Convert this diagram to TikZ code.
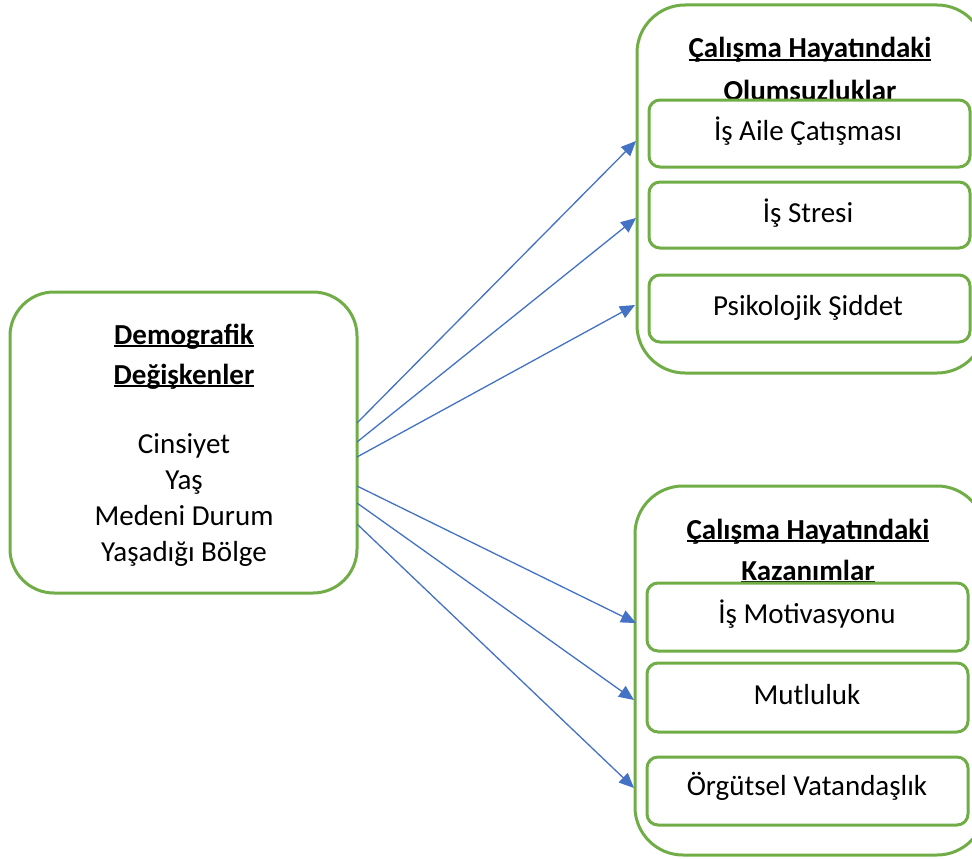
\documentclass[tikz,border=0pt]{standalone}
\usepackage{fontspec}
\setmainfont{Carlito}
\usetikzlibrary{arrows.meta}
\definecolor{grn}{HTML}{70AD47}
\definecolor{blu}{HTML}{4472C4}
\newsavebox\ulbox
\newcommand{\myul}[1]{\sbox\ulbox{#1}\rlap{\rule[-3pt]{\wd\ulbox}{1.8pt}}\usebox\ulbox}
\tikzset{
  bigbox/.style={draw=grn, line width=3pt, fill=white, rounded corners=48pt, inner sep=0pt, outer sep=0pt},
  leftbox/.style={draw=grn, line width=3pt, fill=white, rounded corners=44pt, inner sep=0pt, outer sep=0pt},
  smallbox/.style={draw=grn, line width=3pt, fill=white, rounded corners=11pt, inner sep=0pt, outer sep=0pt},
  txt/.style={font=\fontsize{29pt}{36pt}\selectfont, inner sep=0pt, anchor=base},
  ttl/.style={txt, font=\fontsize{29pt}{36pt}\selectfont\bfseries},
  arr/.style={draw=blu, line width=1.3pt, -{Triangle[length=15pt,width=13pt]}, fill=blu},
}
\begin{document}
\begin{tikzpicture}[x=1pt,y=-1pt]
\useasboundingbox (0,0) rectangle (972,859);
\clip (0,0) rectangle (972,859);
% left box
\node[leftbox, minimum width=347pt, minimum height=301pt] (L) at (183.5,442.5) {};
\node[ttl] (l1) at (184,344) {\myul{Demografik}};
\node[ttl] (l2) at (184,384) {\myul{Değişkenler}};
\node[txt] (l3) at (184,453) {Cinsiyet};
\node[txt] (l4) at (184,489) {Yaş};
\node[txt] (l5) at (184,525) {Medeni Durum};
\node[txt] (l6) at (184,561) {Yaşadığı Bölge};
% top right group
\node[bigbox, minimum width=348pt, minimum height=368pt] (T) at (811,189) {};
\node[ttl] (t1) at (810,58) {\myul{Çalışma Hayatındaki}};
\node[ttl] (t2) at (810,100) {\myul{Olumsuzluklar}};
\node[smallbox, minimum width=321pt, minimum height=67pt] (T1) at (809.5,133.5) {};
\node[smallbox, minimum width=321pt, minimum height=66pt] (T2) at (809.5,215) {};
\node[smallbox, minimum width=321pt, minimum height=67pt] (T3) at (809.5,308.5) {};
\node[txt] (t3) at (808,140) {İş Aile Çatışması};
\node[txt] (t4) at (808,222) {İş Stresi};
\node[txt] (t5) at (808,315) {Psikolojik Şiddet};
% bottom right group
\node[bigbox, minimum width=350pt, minimum height=369pt] (B) at (810,670.5) {};
\node[ttl] (b1) at (808,539) {\myul{Çalışma Hayatındaki}};
\node[ttl] (b2) at (808,580) {\myul{Kazanımlar}};
\node[smallbox, minimum width=321pt, minimum height=68pt] (B1) at (807.5,617) {};
\node[smallbox, minimum width=321pt, minimum height=69pt] (B2) at (807.5,697.5) {};
\node[smallbox, minimum width=321pt, minimum height=68pt] (B3) at (807.5,791) {};
\node[txt] (b3) at (807,623) {İş Motivasyonu};
\node[txt] (b4) at (807,704) {Mutluluk};
\node[txt] (b5) at (807,795) {Örgütsel Vatandaşlık};
% connectors
\coordinate (s1) at (357,423); \coordinate (e1) at (636,141);
\coordinate (s2) at (357,442); \coordinate (e2) at (636,218);
\coordinate (s3) at (357,457); \coordinate (e3) at (635,305);
\coordinate (s4) at (357,486); \coordinate (e4) at (636,623);
\coordinate (s5) at (357,503); \coordinate (e5) at (634,700);
\coordinate (s6) at (357,524); \coordinate (e6) at (634,788);
\draw[arr] (s1) -- (e1);
\draw[arr] (s2) -- (e2);
\draw[arr] (s3) -- (e3);
\draw[arr] (s4) -- (e4);
\draw[arr] (s5) -- (e5);
\draw[arr] (s6) -- (e6);
\end{tikzpicture}
\end{document}
